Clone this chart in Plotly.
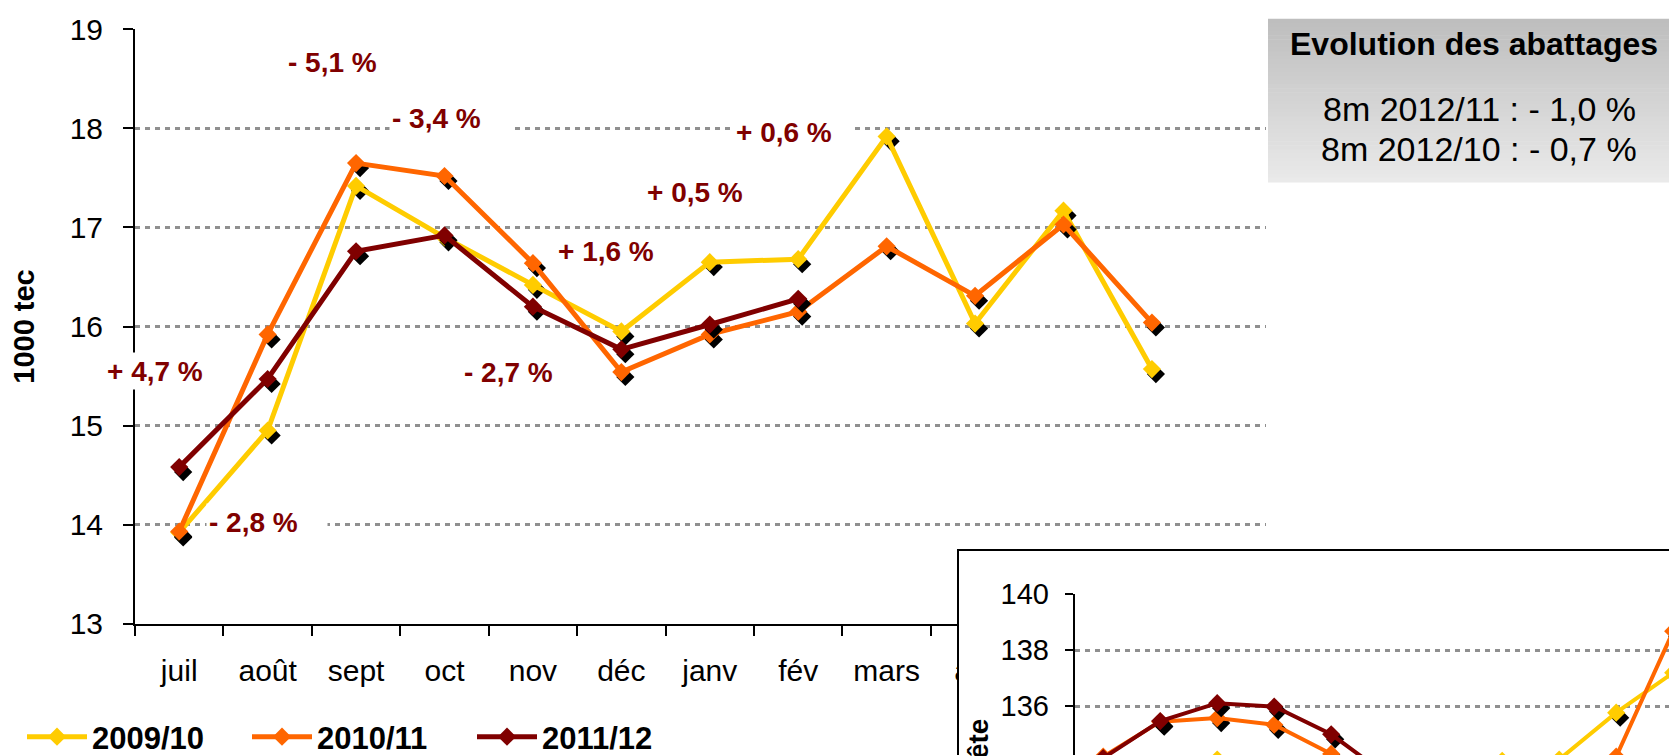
import plotly.graph_objects as go

W, H = 1677, 756
FONT = 'Liberation Sans, Arial, Helvetica, sans-serif'

# --- data -------------------------------------------------------------
months = ['juil', 'août', 'sept', 'oct', 'nov', 'déc', 'janv', 'fév', 'mars', 'avr', 'mai', 'juin']
series_names = ['2009/10', '2010/11', '2011/12']
colors = ['#FFCC00', '#FF6600', '#800000']

# abattages, 1000 tec
tec_2009 = [13.92, 14.95, 17.42, 16.90, 16.42, 15.95, 16.65, 16.68, 17.92, 16.03, 17.17, 15.57]
tec_2010 = [13.93, 15.92, 17.65, 17.52, 16.64, 15.54, 15.92, 16.15, 16.81, 16.31, 17.03, 16.04]
tec_2011 = [14.58, 15.47, 16.76, 16.92, 16.20, 15.77, 16.02, 16.28, None, None, None, None]

# inset (1000 têtes) - lower part is cut off in the picture, hidden values estimated
tete_2009 = [133.0, 133.6, 134.1, 133.5, 133.0, 132.5, 133.2, 134.05, 134.1, 135.77, 137.2, 134.0]
tete_2010 = [134.2, 135.45, 135.58, 135.34, 134.3, 132.8, 132.5, 133.0, 133.5, 134.2, 138.68, 135.0]
tete_2011 = [134.15, 135.47, 136.11, 135.99, 135.0, 133.5, 133.3, 133.6, None, None, None, None]

pct_labels = ['+ 4,7 %', '- 2,8 %', '- 5,1 %', '- 3,4 %', '- 2,7 %', '+ 1,6 %', '+ 0,5 %', '+ 0,6 %']
box_title = 'Evolution des abattages'
box_lines = ['8m 2012/11 : - 1,0 %', '8m 2012/10 : - 0,7 %']

# label positions in pixels (left edge, vertical centre)
pct_pos = [(96, 372), (198, 525), (277, 60), (381, 116), (453, 373), (547, 251), (636, 191), (725, 131)]


def fx(px):
    return px / W


def fy(py):
    return 1 - py / H


fig = go.Figure()
xs = list(range(len(months)))


def add_series(vals, name, col, lw, dx, dy, xa, ya, legend):
    # black drop shadow under the diamonds
    sx = [i + dx for i, v in zip(xs, vals) if v is not None]
    sy = [v + dy for v in vals if v is not None]
    fig.add_trace(go.Scatter(x=sx, y=sy, mode='markers', xaxis=xa, yaxis=ya,
                             marker=dict(symbol='diamond', size=14, color='black'),
                             showlegend=False, hoverinfo='skip'))
    fig.add_trace(go.Scatter(x=xs, y=vals, name=name, mode='lines+markers', xaxis=xa, yaxis=ya,
                             line=dict(color=col, width=lw),
                             marker=dict(symbol='diamond', size=14, color=col),
                             showlegend=legend))


for vals, name, col in zip([tec_2009, tec_2010, tec_2011], series_names, colors):
    add_series(vals, name, col, 5, 0.045, -0.05, 'x', 'y', True)

# white framed box for the inset
fig.add_trace(go.Scatter(x=[None], y=[None], xaxis='x2', yaxis='y2', showlegend=False, hoverinfo='skip'))

for vals, name, col in zip([tete_2009, tete_2010, tete_2011], series_names, colors):
    add_series(vals, name, col, 4, 0.07, -0.18, 'x3', 'y3', False)

grid = dict(showgrid=True, gridcolor='#8f8f8f', gridwidth=2.5, griddash='5px,5px')

fig.update_layout(
    width=W, height=H, template='none',
    margin=dict(l=0, r=0, t=0, b=0),
    paper_bgcolor='white', plot_bgcolor='white',
    font=dict(family=FONT, color='black'),
    hovermode=False,
    xaxis=dict(domain=[fx(127), fx(1258)], range=[-0.5, 12.29], anchor='y',
               tickmode='array', tickvals=xs, ticktext=months, ticks='',
               tickfont=dict(size=30), ticklabelstandoff=19,
               showline=True, linecolor='black', linewidth=2,
               showgrid=False, zeroline=False,
               minor=dict(tickmode='array', tickvals=[i - 0.5 for i in range(len(months) + 1)],
                          ticks='outside', ticklen=10, tickwidth=2, tickcolor='black', showgrid=False)),
    yaxis=dict(domain=[fy(623), fy(21.7)], range=[13, 19], anchor='x',
               tickmode='linear', tick0=13, dtick=1,
               ticks='outside', ticklen=10, tickwidth=2, tickcolor='black',
               tickfont=dict(size=30), ticklabelstandoff=14,
               showline=True, linecolor='black', linewidth=2, zeroline=False,
               title=dict(text='1000 tec', font=dict(size=29, weight='bold'), standoff=35),
               **grid),
    xaxis2=dict(domain=[fx(951), 1], anchor='y2', side='top', range=[0, 1],
                showline=True, linecolor='black', linewidth=2,
                showticklabels=False, ticks='', showgrid=False, zeroline=False),
    yaxis2=dict(domain=[0, fy(550)], anchor='x2', side='left', range=[0, 1],
                showline=True, linecolor='black', linewidth=2,
                showticklabels=False, ticks='', showgrid=False, zeroline=False),
    xaxis3=dict(domain=[fx(1066.7), 1], anchor='y3', range=[-0.5, 10.207],
                showticklabels=False, ticks='', showgrid=False, zeroline=False, showline=False),
    yaxis3=dict(domain=[0, fy(593.3)], anchor='x3', range=[134.26, 140],
                tickmode='array', tickvals=[134, 136, 138, 140],
                ticks='outside', ticklen=8, tickwidth=2, tickcolor='black',
                tickfont=dict(size=29), ticklabelstandoff=10,
                showline=True, linecolor='black', linewidth=2, zeroline=False,
                **grid),
    legend=dict(orientation='h', x=fx(14), y=fy(738), xanchor='left', yanchor='middle',
                font=dict(size=31, weight='bold'), itemwidth=60,
                entrywidth=150, entrywidthmode='pixels',
                bgcolor='rgba(0,0,0,0)', borderwidth=0),
)

# grey gradient box, top right
shapes = []
n = 40
top, bot, left = 11, 176, 1260
for k in range(n):
    c = int(190 + (234 - 190) * k / (n - 1))
    y0 = top + (bot - top) * k / n
    y1 = top + (bot - top) * (k + 1) / n + 0.6
    shapes.append(dict(type='rect', xref='paper', yref='paper', layer='above',
                       x0=fx(left), x1=1, y0=fy(y1), y1=fy(y0),
                       fillcolor=f'rgb({c},{c},{c})', line=dict(width=0)))
fig.update_layout(shapes=shapes)

ann = []
for txt, (px, py) in zip(pct_labels, pct_pos):
    ann.append(dict(text=txt, xref='paper', yref='paper', x=fx(px), y=fy(py), yshift=5,
                    xanchor='left', yanchor='middle', showarrow=False, align='left',
                    width=116, height=32, borderpad=2, bgcolor='white',
                    font=dict(size=28, color='#800000', weight='bold')))

ann.append(dict(text=box_title, xref='paper', yref='paper', x=fx(1466), y=fy(42), yshift=6,
                xanchor='center', yanchor='middle', showarrow=False,
                font=dict(size=32, weight='bold')))
for txt, py in zip(box_lines, [108, 149]):
    ann.append(dict(text=txt, xref='paper', yref='paper', x=fx(1471), y=fy(py), yshift=6,
                    xanchor='center', yanchor='middle', showarrow=False,
                    font=dict(size=34)))

# inset y title (mostly below the visible area)
ann.append(dict(text='1000 tête', xref='paper', yref='paper', x=fx(970), y=fy(717),
                xanchor='center', yanchor='top', textangle=-90, showarrow=False,
                font=dict(size=28, weight='bold')))
fig.update_layout(annotations=ann)

fig.write_html('out.html')
